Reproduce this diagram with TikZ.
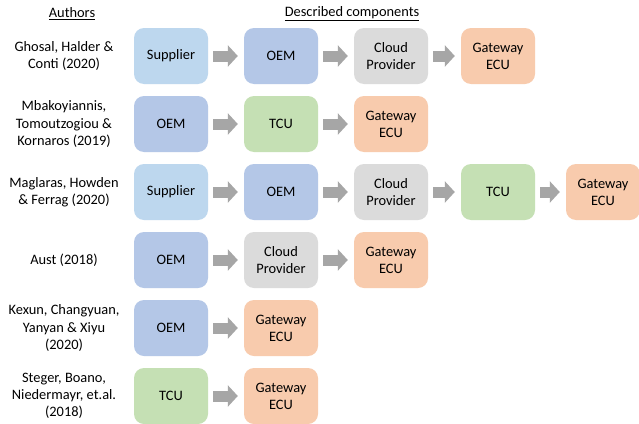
\documentclass[tikz,border=0pt]{standalone}
\usepackage{fontspec}
\setmainfont{Carlito}
\usetikzlibrary{arrows.meta}
\definecolor{cSup}{HTML}{BDD7EE}
\definecolor{cOEM}{HTML}{B4C7E7}
\definecolor{cCloud}{HTML}{DBDBDB}
\definecolor{cGw}{HTML}{F8CBAD}
\definecolor{cTCU}{HTML}{C5E0B4}
\definecolor{cArr}{HTML}{A6A6A6}
\tikzset{
  comp/.style={rounded corners=10pt, minimum width=74pt, minimum height=56pt, inner sep=0pt, align=center, font=\fontsize{14.4}{17.2}\selectfont},
  sup/.style={comp, fill=cSup},
  oem/.style={comp, fill=cOEM},
  cloud/.style={comp, fill=cCloud},
  gw/.style={comp, fill=cGw},
  tcu/.style={comp, fill=cTCU},
  auth/.style={align=center, font=\fontsize{14.4}{17.2}\selectfont, inner sep=0pt},
  head/.style={font=\fontsize{14.4}{17.2}\selectfont, inner sep=0pt},
  barrow/.style={draw=cArr, line width=11pt, line cap=butt, shorten <=5pt, shorten >=6pt, -{Triangle[length=10pt,width=21pt,fill=cArr]}}
}
\begin{document}
\begin{tikzpicture}[x=1pt,y=-1pt]
\useasboundingbox[fill=white] (0,0) rectangle (639,423);
\node[head] (h1) at (72,14) {\underline{Authors}};
\node[head] (h2) at (352,14) {\underline{Described components}};
% row 1
\node[auth] (a1) at (64,56) {Ghosal, Halder \&\\Conti (2020)};
\node[sup] (r1c1) at (171,56) {Supplier};
\node[oem] (r1c2) at (281,56) {OEM};
\node[cloud] (r1c3) at (391,56) {Cloud\\Provider};
\node[gw] (r1c4) at (498,56) {Gateway\\ECU};
\draw[barrow] (r1c1) -- (r1c2);
\draw[barrow] (r1c2) -- (r1c3);
\draw[barrow] (r1c3) -- (r1c4);
% row 2
\node[auth] (a2) at (64,124) {Mbakoyiannis,\\Tomoutzogiou \&\\Kornaros (2019)};
\node[oem] (r2c1) at (171,124) {OEM};
\node[tcu] (r2c2) at (281,124) {TCU};
\node[gw] (r2c3) at (391,124) {Gateway\\ECU};
\draw[barrow] (r2c1) -- (r2c2);
\draw[barrow] (r2c2) -- (r2c3);
% row 3
\node[auth] (a3) at (64,192) {Maglaras, Howden\\\& Ferrag (2020)};
\node[sup] (r3c1) at (171,192) {Supplier};
\node[oem] (r3c2) at (281,192) {OEM};
\node[cloud] (r3c3) at (391,192) {Cloud\\Provider};
\node[tcu] (r3c4) at (498,192) {TCU};
\node[gw] (r3c5) at (603,192) {Gateway\\ECU};
\draw[barrow] (r3c1) -- (r3c2);
\draw[barrow] (r3c2) -- (r3c3);
\draw[barrow] (r3c3) -- (r3c4);
\draw[barrow] (r3c4) -- (r3c5);
% row 4
\node[auth] (a4) at (64,260) {Aust (2018)};
\node[oem] (r4c1) at (171,260) {OEM};
\node[cloud] (r4c2) at (281,260) {Cloud\\Provider};
\node[gw] (r4c3) at (391,260) {Gateway\\ECU};
\draw[barrow] (r4c1) -- (r4c2);
\draw[barrow] (r4c2) -- (r4c3);
% row 5
\node[auth] (a5) at (64,328) {Kexun, Changyuan,\\Yanyan \& Xiyu\\(2020)};
\node[oem] (r5c1) at (171,328) {OEM};
\node[gw] (r5c2) at (281,328) {Gateway\\ECU};
\draw[barrow] (r5c1) -- (r5c2);
% row 6
\node[auth] (a6) at (64,396) {Steger, Boano,\\Niedermayr, et.al.\\(2018)};
\node[tcu] (r6c1) at (171,396) {TCU};
\node[gw] (r6c2) at (281,396) {Gateway\\ECU};
\draw[barrow] (r6c1) -- (r6c2);
\end{tikzpicture}
\end{document}
